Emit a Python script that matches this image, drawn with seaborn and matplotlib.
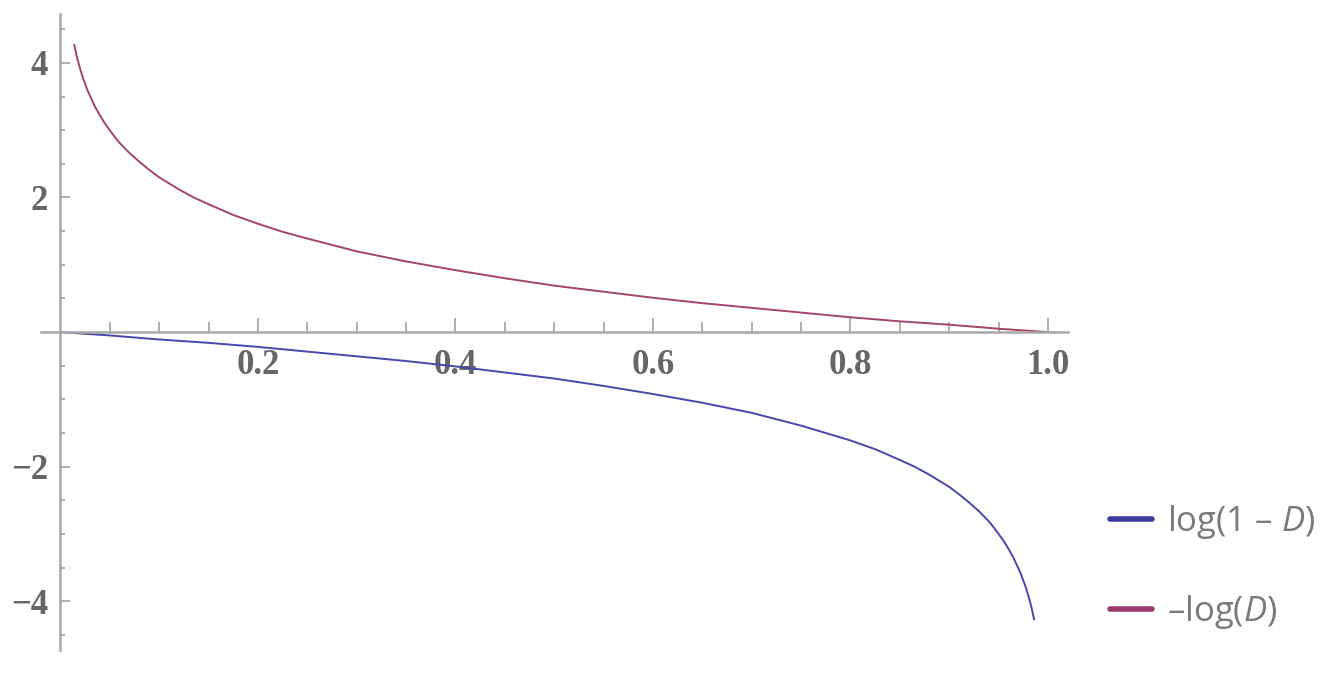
import numpy as np
import pandas as pd
import matplotlib
matplotlib.use('Agg')
import matplotlib.pyplot as plt
from matplotlib.lines import Line2D
import seaborn as sns

# values
d_neg_log = [0.014, 0.0155, 0.017, 0.0185, 0.02, 0.0225, 0.025, 0.0275, 0.03, 0.035,
             0.04, 0.045, 0.05, 0.055, 0.06, 0.07, 0.08, 0.09, 0.1, 0.11, 0.12, 0.135,
             0.15, 0.175, 0.2, 0.225, 0.25, 0.3, 0.35, 0.4, 0.45, 0.5, 0.55, 0.6, 0.65,
             0.7, 0.75, 0.8, 0.85, 0.9, 0.95, 1.0]
neg_log_d = [4.27, 4.17, 4.07, 3.99, 3.91, 3.79, 3.69, 3.59, 3.51, 3.35,
             3.22, 3.10, 3.00, 2.90, 2.81, 2.66, 2.53, 2.41, 2.30, 2.21, 2.12, 2.00,
             1.90, 1.74, 1.61, 1.49, 1.39, 1.20, 1.05, 0.92, 0.80, 0.69, 0.60, 0.51, 0.43,
             0.36, 0.29, 0.22, 0.16, 0.11, 0.05, 0.0]

d_log_1m = [0.0, 0.05, 0.1, 0.15, 0.2, 0.25, 0.3, 0.35, 0.4, 0.45, 0.5, 0.55, 0.6,
            0.65, 0.7, 0.75, 0.8, 0.825, 0.85, 0.865, 0.88, 0.89, 0.9, 0.91, 0.92,
            0.93, 0.94, 0.945, 0.95, 0.955, 0.96, 0.965, 0.97, 0.9725, 0.975, 0.9775,
            0.98, 0.9815, 0.983, 0.9845, 0.986]
log_1m_d = [0.0, -0.05, -0.11, -0.16, -0.22, -0.29, -0.36, -0.43, -0.51, -0.60, -0.69,
            -0.80, -0.92, -1.05, -1.20, -1.39, -1.61, -1.74, -1.90, -2.00, -2.12,
            -2.21, -2.30, -2.41, -2.53, -2.66, -2.81, -2.90, -3.00, -3.10, -3.22,
            -3.35, -3.51, -3.59, -3.69, -3.79, -3.91, -3.99, -4.07, -4.17, -4.27]

x_major = [0.2, 0.4, 0.6, 0.8, 1.0]
y_major = [-4, -2, 2, 4]
labels = ['log(1 – $D$)', '–log($D$)']

blue = '#4848aa'
purple = '#a3446f'
axis_gray = '#a8a8a8'

sns.set_style('white')
plt.rcParams['mathtext.fontset'] = 'custom'
plt.rcParams['mathtext.rm'] = 'Open Sans'
plt.rcParams['mathtext.it'] = 'Open Sans:italic'

fig = plt.figure(figsize=(13.42, 6.78), dpi=100)
ax = fig.add_axes([0.0303, 0.0417, 0.7653, 0.937])

sns.lineplot(x=d_log_1m, y=log_1m_d, ax=ax, color=blue, linewidth=1.4, sort=False)
sns.lineplot(x=d_neg_log, y=neg_log_d, ax=ax, color=purple, linewidth=1.4, sort=False)

ax.set_xlim(-0.02, 1.02)
ax.set_ylim(-4.72, 4.72)

for s in ['top', 'right']:
    ax.spines[s].set_visible(False)
ax.spines['left'].set_position(('data', 0))
ax.spines['bottom'].set_position(('data', 0))
for s in ['left', 'bottom']:
    ax.spines[s].set_color(axis_gray)
    ax.spines[s].set_linewidth(1.8)

ax.set_xticks(x_major)
ax.set_xticklabels(['0.2', '0.4', '0.6', '0.8', '1.0'])
ax.set_xticks([v / 20 for v in range(1, 21) if v % 4 != 0], minor=True)
ax.set_yticks(y_major)
ax.set_yticklabels(['−4', '−2', '2', '4'])
ax.set_yticks([v / 2 for v in range(-9, 10) if v % 4 != 0], minor=True)

for lab in ax.get_xticklabels() + ax.get_yticklabels():
    lab.set_fontfamily('Liberation Serif')
    lab.set_fontsize(25)
    lab.set_fontweight('bold')
    lab.set_color('#666666')

ax.tick_params(bottom=True, left=True, which='both')
ax.tick_params(axis='x', which='major', direction='in', length=10, width=1.3,
               color=axis_gray, pad=12)
ax.tick_params(axis='x', which='minor', direction='in', length=7, width=1.3,
               color=axis_gray)
ax.tick_params(axis='y', which='major', direction='in', length=7, width=1.3,
               color=axis_gray, pad=9)
ax.tick_params(axis='y', which='minor', direction='in', length=3.6, width=1.3,
               color=axis_gray)

handles = [Line2D([], [], color='#3c3c9c', linewidth=4),
           Line2D([], [], color='#9c3c6e', linewidth=4)]
leg = fig.legend(handles, labels, loc='center left',
                 bbox_to_anchor=(1110 / 1342, 1 - 567 / 678), frameon=False,
                 prop={'family': 'Open Sans', 'size': 25},
                 handlelength=1.2, handletextpad=0.45, labelspacing=1.5,
                 borderpad=0, borderaxespad=0)
for t in leg.get_texts():
    t.set_color('#7a7a7a')

fig.savefig('out.png', dpi=100)
